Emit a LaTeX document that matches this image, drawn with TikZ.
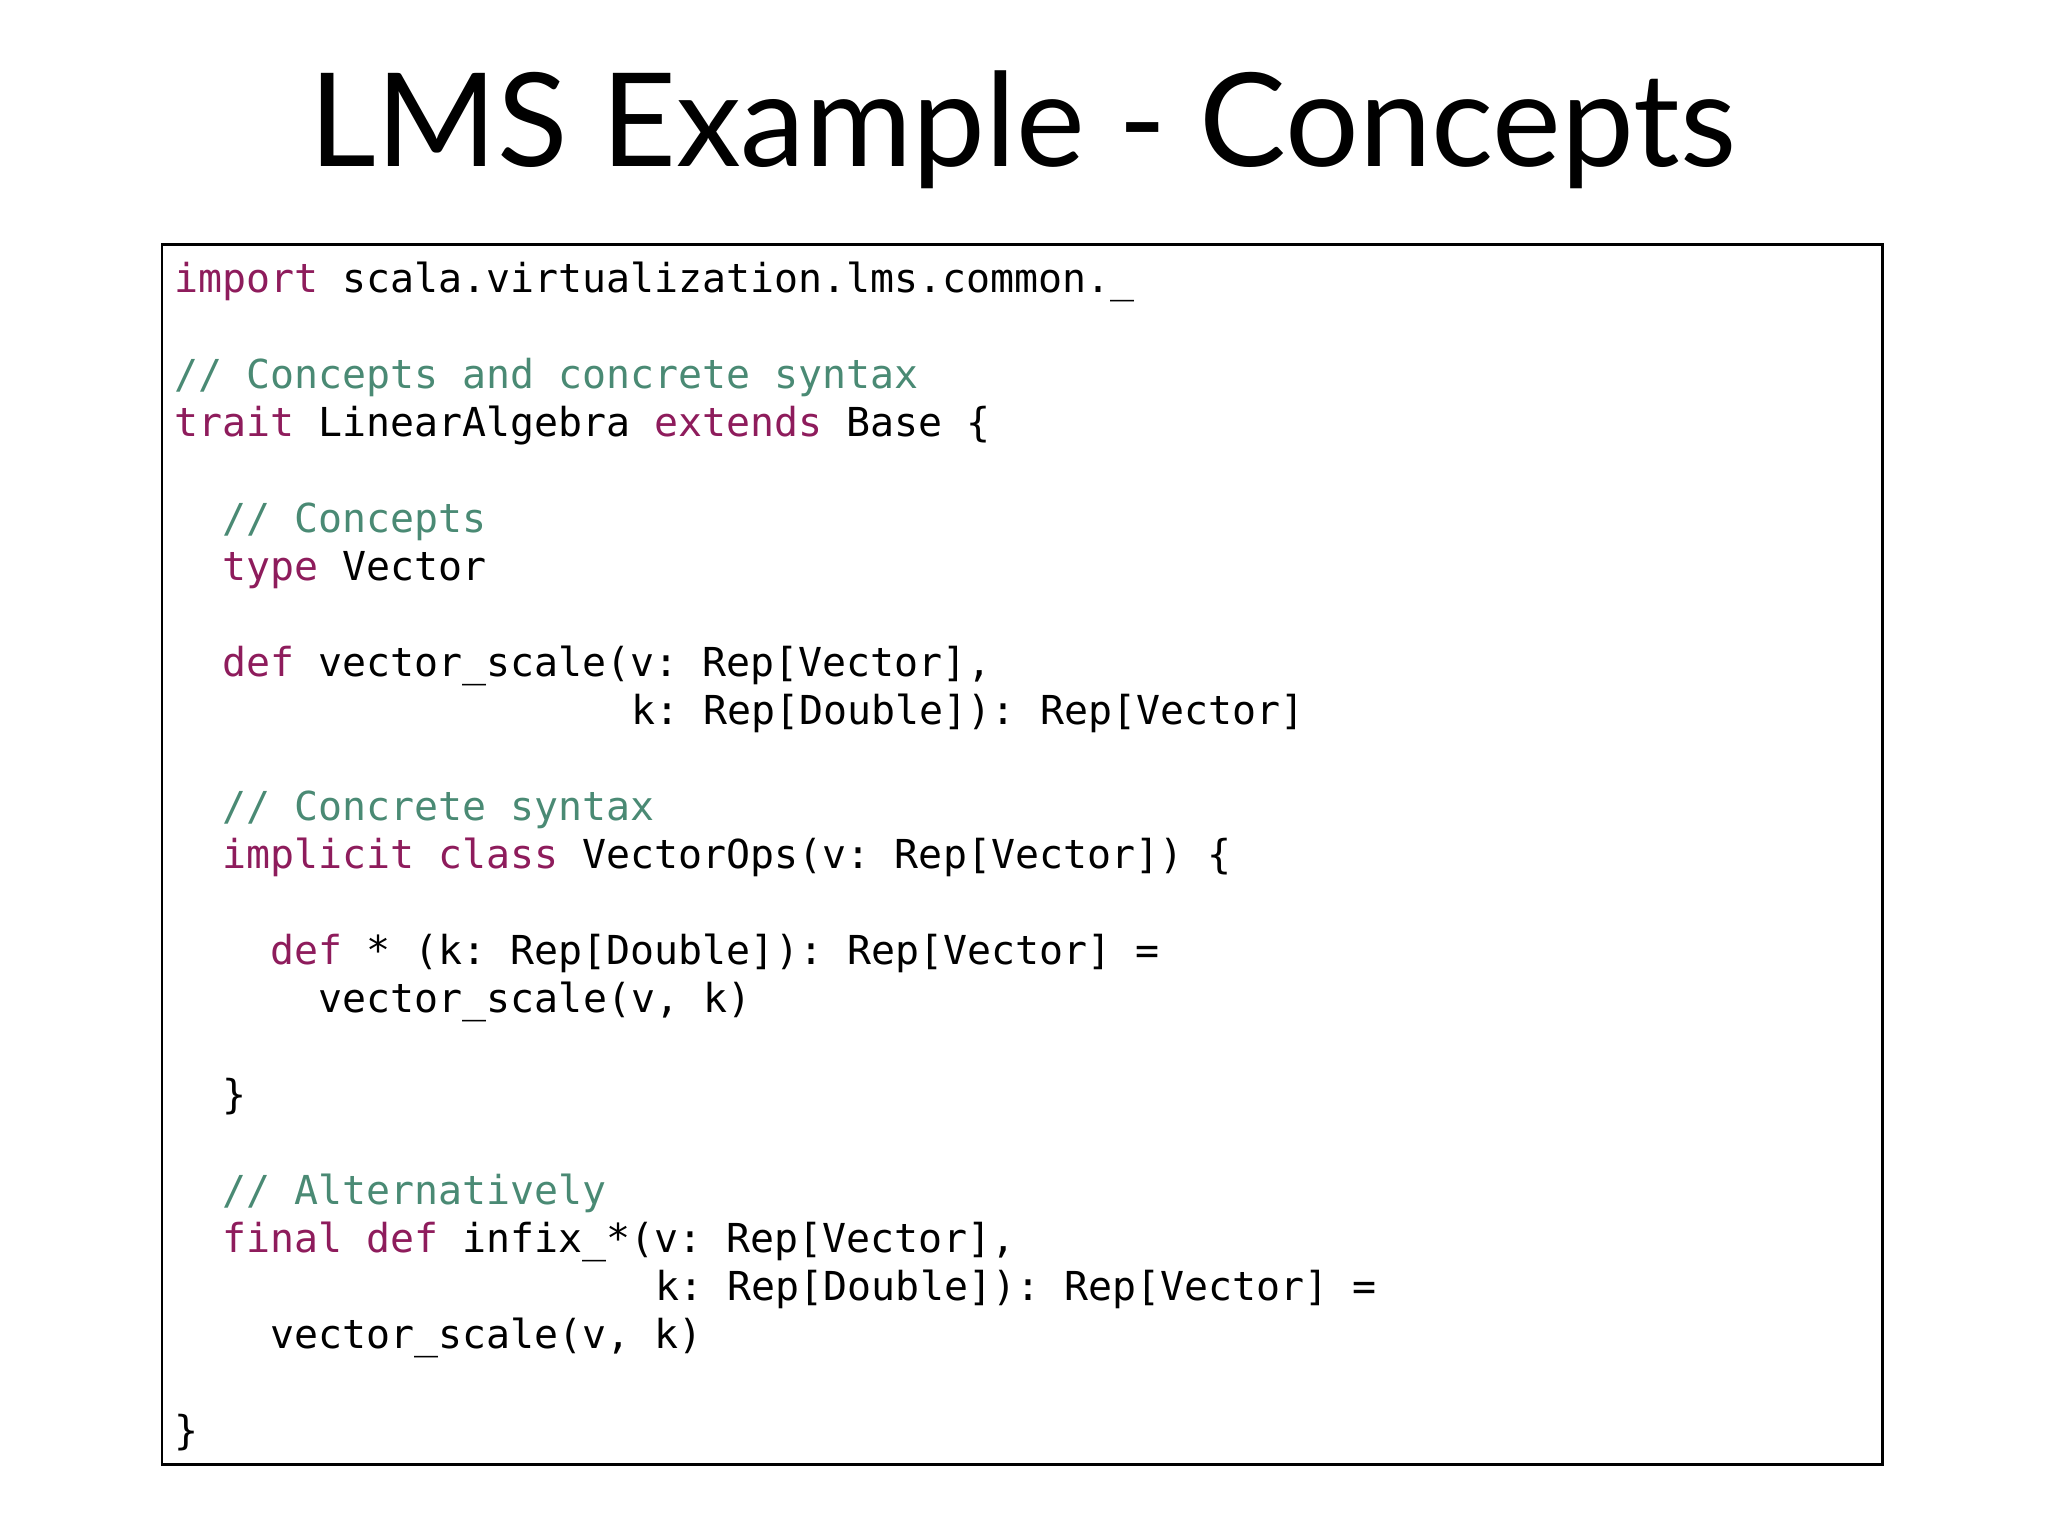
\documentclass[tikz,border=0pt]{standalone}
\usepackage{fontspec}
\setmainfont{Lato}
\setmonofont{DejaVu Sans Mono}
\definecolor{kwc}{HTML}{8E1C5C}
\definecolor{cmc}{HTML}{4A8A74}
\newcommand{\kw}[1]{\textcolor{kwc}{#1}}
\newcommand{\cm}[1]{\textcolor{cmc}{#1}}
\begin{document}
\begin{tikzpicture}[x=0.013061cm,y=-0.013061cm,
  codeln/.style={anchor=base west,inner sep=0pt,font=\fontsize{11.35}{13}\selectfont\ttfamily}]
\useasboundingbox (0,0) rectangle (1568,1176);
\node[font=\fontsize{37}{44}\selectfont] (title) at (783,99) {LMS Example - Concepts};
\draw[line width=0.8pt] (124,187) rectangle (1441,1121);
\newcommand{\cl}[4]{\node[codeln] (#1) at ({133+18.43*#3},{224+36.75*#2}) {#4};}
\cl{l0}{0}{0}{\kw{import} scala.virtualization.lms.common.\_}
\cl{l2}{2}{0}{\cm{// Concepts and concrete syntax}}
\cl{l3}{3}{0}{\kw{trait} LinearAlgebra \kw{extends} Base \{}
\cl{l5}{5}{2}{\cm{// Concepts}}
\cl{l6}{6}{2}{\kw{type} Vector}
\cl{l8}{8}{2}{\kw{def} vector\_scale(v: Rep[Vector],}
\cl{l9}{9}{19}{k: Rep[Double]): Rep[Vector]}
\cl{l11}{11}{2}{\cm{// Concrete syntax}}
\cl{l12}{12}{2}{\kw{implicit} \kw{class} VectorOps(v: Rep[Vector]) \{}
\cl{l14}{14}{4}{\kw{def} * (k: Rep[Double]): Rep[Vector] =}
\cl{l15}{15}{6}{vector\_scale(v, k)}
\cl{l17}{17}{2}{\}}
\cl{l19}{19}{2}{\cm{// Alternatively}}
\cl{l20}{20}{2}{\kw{final} \kw{def} infix\_*(v: Rep[Vector],}
\cl{l21}{21}{20}{k: Rep[Double]): Rep[Vector] =}
\cl{l22}{22}{4}{vector\_scale(v, k)}
\cl{l24}{24}{0}{\}}
\end{tikzpicture}
\end{document}
